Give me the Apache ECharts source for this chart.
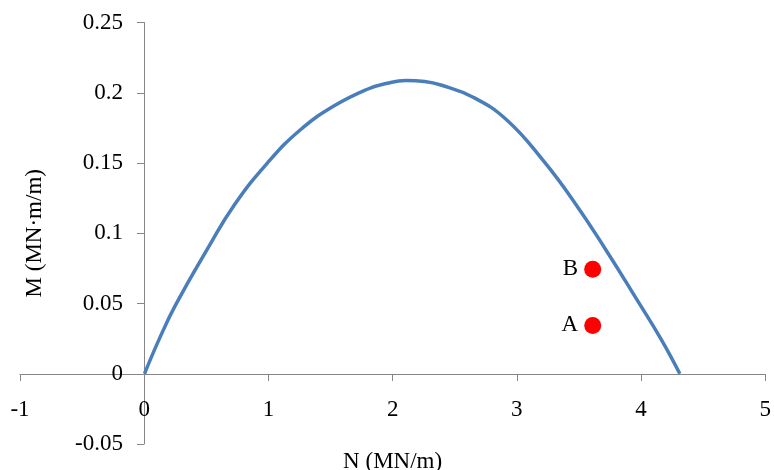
<!DOCTYPE html>
<html>
<head>
<meta charset="utf-8">
<script src="https://cdn.jsdelivr.net/npm/echarts@6/dist/echarts.min.js"></script>
<style>html,body{margin:0;padding:0;background:#fff}#c{width:774px;height:470px}</style>
</head>
<body>
<div id="c"></div>
<script>
var curveN = [0, 0.12, 0.25, 0.52, 0.72, 0.985, 1.25, 1.52, 1.79, 1.95, 2.1, 2.25, 2.38, 2.64, 2.91, 3.2, 3.45, 3.7, 3.95, 4.15, 4.30];
var curveM = [0, 0.025, 0.049, 0.091, 0.120, 0.1498, 0.1735, 0.1905, 0.2025, 0.2068, 0.2087, 0.2080, 0.2055, 0.1968, 0.1806, 0.152, 0.1225, 0.089, 0.0535, 0.0245, 0];
var pointNames = ['B', 'A'];
var pointN = [3.6, 3.6];
var pointM = [0.0744, 0.0344];
var xMin = -1, xMax = 5, xStep = 1;
var yMin = -0.05, yMax = 0.25, yStep = 0.05;

var curveData = curveN.map(function (n, i) { return [n, curveM[i]]; });
var pointData = pointN.map(function (n, i) { return { name: pointNames[i], value: [n, pointM[i]] }; });

var font = 'Liberation Serif, Times New Roman, serif';
var axisGray = '#868686';
var hidden = { show: false };
var chart = echarts.init(document.getElementById('c'));
chart.setOption({
  animation: false,
  grid: [
    { left: 20, right: 7, top: 22.5, bottom: 26, containLabel: false, outerBoundsContain: 'axisLabel' },
    { left: 144, right: 7, top: 22.5, bottom: 26, containLabel: false, outerBoundsContain: 'axisLabel' },
    { left: 20, right: 7, top: 22.5, bottom: 96, containLabel: false, outerBoundsContain: 'axisLabel' }
  ],
  xAxis: [
    { gridIndex: 0, type: 'value', min: xMin, max: xMax, show: false },
    { gridIndex: 1, type: 'value', min: 0, max: xMax, show: false },
    {
      gridIndex: 2, type: 'value', min: xMin, max: xMax, interval: xStep, position: 'bottom',
      name: 'N (MN/m)', nameLocation: 'middle', nameGap: 76,
      nameTextStyle: { fontFamily: font, fontSize: 23, color: '#000' },
      axisLine: { show: true, onZero: false, lineStyle: { color: axisGray, width: 1 } },
      axisTick: { show: true, length: 7, lineStyle: { color: axisGray } },
      axisLabel: { fontFamily: font, fontSize: 23, color: '#000', margin: 24 },
      splitLine: hidden
    }
  ],
  yAxis: [
    { gridIndex: 0, type: 'value', min: yMin, max: yMax, show: false },
    {
      gridIndex: 1, type: 'value', min: yMin, max: yMax, interval: yStep, position: 'left',
      name: 'M (MN·m/m)', nameLocation: 'middle', nameGap: 98,
      nameTextStyle: { fontFamily: font, fontSize: 23, color: '#000' },
      axisLine: { show: true, onZero: false, lineStyle: { color: axisGray, width: 1 } },
      axisTick: { show: true, length: 7, lineStyle: { color: axisGray } },
      axisLabel: { fontFamily: font, fontSize: 23, color: '#000', margin: 21,
        formatter: function (v) { return String(Math.round(v * 100) / 100); } },
      splitLine: hidden
    },
    { gridIndex: 2, type: 'value', min: 0, max: yMax, show: false }
  ],
  series: [
    {
      type: 'line', xAxisIndex: 0, yAxisIndex: 0, data: curveData, smooth: 0.45, symbol: 'none',
      lineStyle: { color: '#4A7EBB', width: 3.5 }, z: 3
    },
    {
      type: 'scatter', xAxisIndex: 0, yAxisIndex: 0, data: pointData, symbol: 'circle', symbolSize: 17,
      itemStyle: { color: '#FF0000', opacity: 1 }, z: 4,
      label: { show: true, position: 'left', distance: 6, formatter: '{b}',
        fontFamily: font, fontSize: 23, color: '#000' }
    }
  ]
});
</script>
</body>
</html>
